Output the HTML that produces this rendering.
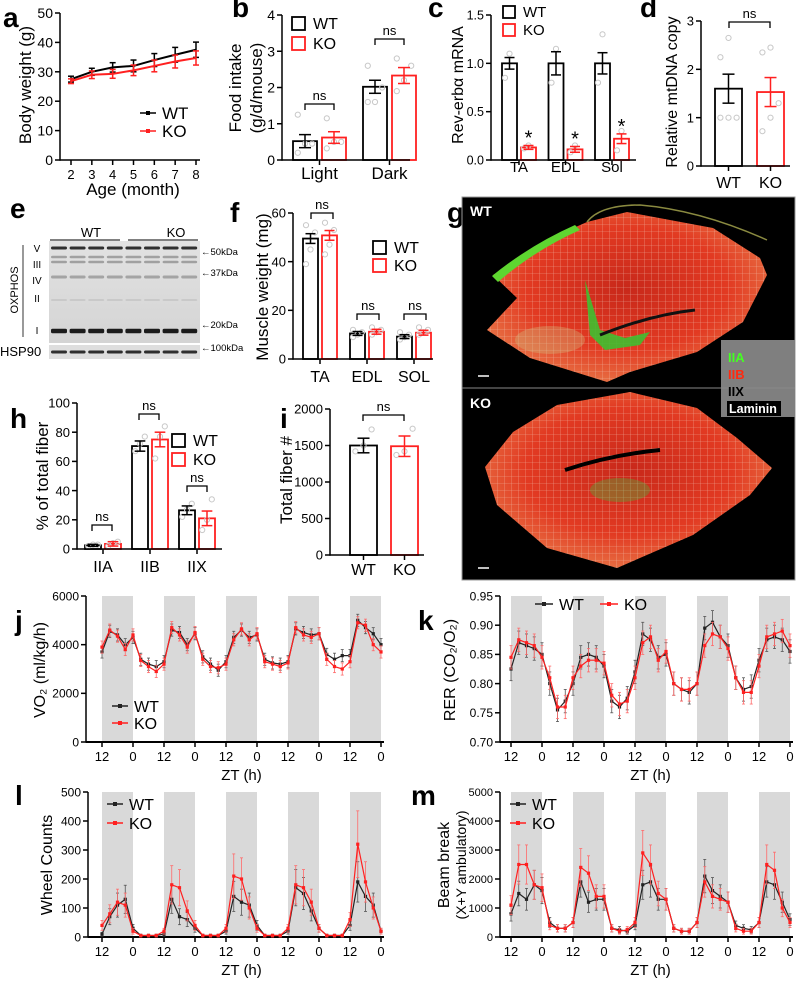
<!DOCTYPE html>
<html><head><meta charset="utf-8">
<style>
html,body{margin:0;padding:0;background:#fff;}
svg{display:block;font-family:"Liberation Sans",Arial,sans-serif;}
</style></head>
<body>
<svg id="fig" width="800" height="985" viewBox="0 0 800 985" xmlns="http://www.w3.org/2000/svg">
<defs>
<radialGradient id="musc" cx="50%" cy="45%" r="60%">
<stop offset="0" stop-color="#c8281a"/><stop offset="0.6" stop-color="#e23a22"/><stop offset="1" stop-color="#e87a4a"/>
</radialGradient>
<pattern id="cells" width="7" height="7" patternUnits="userSpaceOnUse">
<rect width="7" height="7" fill="none"/><path d="M0 0H7M0 0V7" stroke="#f3d8c8" stroke-width="0.6" opacity="0.7"/>
</pattern>
<linearGradient id="blotbg" x1="0" y1="0" x2="0" y2="1"><stop offset="0" stop-color="#e2e2e2"/><stop offset="1" stop-color="#d4d4d4"/></linearGradient>
</defs>
</svg>
<script>
// ---------- DATA ----------
const months = [2,3,4,5,6,7,8];
const bwWT = [27.5,30,31.5,32,34,35.8,37.5];
const bwWTerr = [1,1.2,1.6,2,2.2,2.5,2.6];
const bwKO = [26.8,29,29.3,30.5,32,33.5,34.7];
const bwKOerr = [0.8,1.3,1.5,1.8,2,2.2,2.4];

const foodCats = ["Light","Dark"];
const foodWT = [0.52,2.02]; const foodWTerr = [0.18,0.18];
const foodKO = [0.62,2.33]; const foodKOerr = [0.16,0.22];
const foodWTpts = [[0.2,0.45,0.45,1.25],[1.6,1.6,2.0,2.6]];
const foodKOpts = [[0.32,0.5,0.5,1.15],[1.9,2.2,2.6,2.8]];

const revCats = ["TA","EDL","Sol"];
const revWT = [1,1,1]; const revWTerr = [0.06,0.12,0.11];
const revKO = [0.13,0.11,0.22]; const revKOerr = [0.02,0.03,0.05];
const revWTpts = [[0.85,1.1],[0.8,1.15],[0.8,1.3]];
const revKOpts = [[0.12,0.15],[0.08,0.15],[0.1,0.3]];

const mtCats = ["WT","KO"];
const mtVals = [1.6,1.53]; const mtErr = [0.3,0.3];
const mtPts = [[1,1,1,2.25,2.65],[0.72,1,1.3,2.35,2.45]];

const mwCats = ["TA","EDL","SOL"];
const mwWT = [49.5,10.5,9.2]; const mwWTerr = [2,0.8,0.8];
const mwKO = [50.8,11.2,10.8]; const mwKOerr = [2,1,1];
const mwWTpts = [[39,45,52,55],[9,10,11,12],[8,9,10,11]];
const mwKOpts = [[43,47,53,56],[10,11,12,13],[10,11,12,13]];

const fbCats = ["IIA","IIB","IIX"];
const fbWT = [2.5,70.5,26.5]; const fbWTerr = [0.7,3.5,3];
const fbKO = [3.5,75,21]; const fbKOerr = [1.5,5,5];
const fbWTpts = [[2,3,3],[67,72,77],[22,27,31]];
const fbKOpts = [[2,4,5],[62,77,84],[13,20,34]];

const tfCats = ["WT","KO"];
const tfVals = [1500,1490]; const tfErr = [100,140];
const tfPts = [[1420,1500,1720],[1370,1420,1730]];

const ztLabels = ["12","0","12","0","12","0","12","0","12","0"];
const vo2WT = [3700,4550,4400,4000,4300, 3400,3200,3100,3300, 4600,4500,4000,4450, 3500,3200,2950,3300, 4300,4600,4300,4400, 3400,3250,3200,3300, 4650,4500,4400,4450, 3600,3400,3550,3550, 5000,4700,4450,4000];
const vo2KO = [3900,4600,4350,3800,4400, 3350,3100,2900,3200, 4700,4400,3900,4500, 3400,3100,3050,3200, 4200,4650,4200,4450, 3300,3200,3100,3250, 4700,4400,4300,4450, 3400,3100,3000,3300, 4900,4800,4000,3700];
const rerWT = [0.825,0.87,0.865,0.86,0.85, 0.80,0.755,0.77,0.80, 0.845,0.85,0.845,0.83, 0.77,0.76,0.775,0.82, 0.885,0.875,0.845,0.85, 0.80,0.79,0.785,0.80, 0.895,0.905,0.88,0.865, 0.81,0.79,0.795,0.84, 0.875,0.88,0.875,0.855];
const rerKO = [0.845,0.875,0.87,0.865,0.845, 0.81,0.76,0.76,0.81, 0.83,0.84,0.84,0.835, 0.78,0.765,0.77,0.81, 0.87,0.88,0.84,0.855, 0.80,0.79,0.79,0.80, 0.865,0.885,0.88,0.86, 0.81,0.785,0.785,0.83, 0.88,0.885,0.89,0.865];
const wheelWT = [10,70,110,130,30, 5,5,5,10, 130,70,60,30, 5,5,5,20, 140,120,110,40, 5,5,5,20, 170,150,90,30, 5,5,5,40, 190,140,110,20];
const wheelKO = [40,80,120,110,20, 5,5,5,20, 180,170,90,40, 5,5,5,30, 210,200,100,30, 5,5,5,30, 180,170,120,30, 5,5,5,60, 320,190,100,20];
const beamWT = [800,1500,1300,1800,1600, 500,300,300,500, 1900,1200,1300,1300, 300,250,200,400, 1800,1900,1300,1300, 300,200,200,500, 2100,1600,1400,1200, 400,300,250,500, 1900,1800,1200,600];
const beamKO = [1100,2500,2500,1800,1700, 400,300,300,500, 2400,2200,1400,1400, 300,200,250,500, 2900,2500,1500,1300, 300,200,200,500, 1900,1400,1300,1200, 300,200,200,500, 2500,2300,1000,500];

// ---------- HELPERS ----------
const NS = "http://www.w3.org/2000/svg";
const svg = document.getElementById('fig');
const RED = "#ff2020";
function mk(tag, attrs, parent) {
  const e = document.createElementNS(NS, tag);
  for (const k in attrs) e.setAttribute(k, attrs[k]);
  (parent || svg).appendChild(e);
  return e;
}
function txt(s, x, y, size, opts) {
  opts = opts || {};
  const e = mk('text', {x: x, y: y, 'font-size': size, 'text-anchor': opts.anchor || 'middle', fill: opts.fill || '#000', 'font-weight': opts.bold ? 'bold' : 'normal'});
  if (opts.rot) e.setAttribute('transform', 'rotate(-90 ' + x + ' ' + y + ')');
  e.textContent = s;
  return e;
}
function line(x1, y1, x2, y2, col, w) {
  return mk('line', {x1: x1, y1: y1, x2: x2, y2: y2, stroke: col || '#000', 'stroke-width': w || 1.5});
}
function scale(d0, d1, r0, r1) { return v => r0 + (v - d0) * (r1 - r0) / (d1 - d0); }

function letter(s, x, y) {
  const e = txt(s, x, y, 28, {bold: true, anchor: 'start'});
  
  
}
function yAxis(ax, y0, y1, ticks, labels, sy, size) {
  const a = line(ax, y0 + 0.75, ax, y1, '#000', 1.5);
  
  
  ticks.forEach((t, i) => {
    const y = sy(t);
    line(ax - 5, y, ax, y, '#000', 1.5);
    const l = txt(labels[i], ax - 7, y + size * 0.36, size, {anchor: 'end'});
    
    
  });
}
function nsMark(x1, x2, y, label) {
  mk('path', {d: 'M' + x1 + ' ' + (y + 6) + 'V' + y + 'H' + x2 + 'V' + (y + 6), fill: 'none', stroke: '#000', 'stroke-width': 1.3});
  const t = txt(label || 'ns', (x1 + x2) / 2, y - 4, 13);
  
  
}
function errBar(cx, yv, ye1, ye2, col, cap) {
  line(cx, ye1, cx, ye2, col, 1.5);
  line(cx - cap, ye1, cx + cap, ye1, col, 1.5);
  line(cx - cap, ye2, cx + cap, ye2, col, 1.5);
}
function bar(x, w, val, err, pts, col, sy, y0, name) {
  const y = sy(val);
  const r = mk('rect', {x: x, y: y, width: w, height: y0 - y, fill: '#fff', stroke: col, 'stroke-width': 1.8});
  
  
  pts.forEach((p, i) => {
    const c = mk('circle', {cx: x + w * (0.2 + 0.6 * (i % 3) / 2), cy: sy(p), r: 2.6, fill: 'none', stroke: '#c8c8c8', 'stroke-width': 1});
    
    
  });
  errBar(x + w / 2, y, sy(val + err), sy(val - err), col, Math.min(6, w / 3));
}
function legendSq(x, y, s, col, label, fs) {
  const r = mk('rect', {x: x, y: y, width: s, height: s, fill: '#fff', stroke: col, 'stroke-width': 1.8});
  
  
  const t = txt(label, x + s + 8, y + s - 1, fs, {anchor: 'start'});
  
  
}
function groupedBars(cfg, cats, wt, wtE, ko, koE, wtP, koP) {
  const sy = scale(0, cfg.vmax, cfg.y0, cfg.y1);
  yAxis(cfg.ax, cfg.y0, cfg.y1, cfg.ticks, cfg.tl, sy, cfg.fs);
  cats.forEach((c, i) => {
    const gx = cfg.bx + i * cfg.step;
    bar(gx, cfg.bw, wt[i], wtE[i], wtP[i], '#000', sy, cfg.y0, 'bar-wt-' + c.toLowerCase());
    bar(gx + cfg.gap, cfg.bw, ko[i], koE[i], koP[i], RED, sy, cfg.y0, 'bar-ko-' + c.toLowerCase());
    const cx = gx + (cfg.gap + cfg.bw) / 2;
    line(cx, cfg.y0, cx, cfg.y0 + 5, '#000', 1.5);
    const l = txt(c, cx, cfg.ly, cfg.lfs);
    
    
  });
  const xa = line(cfg.ax, cfg.y0, cfg.xend, cfg.y0, '#000', 1.5);
  
  
  return sy;
}
function singleBars(cfg, cats, vals, errs, pts) {
  const sy = scale(0, cfg.vmax, cfg.y0, cfg.y1);
  yAxis(cfg.ax, cfg.y0, cfg.y1, cfg.ticks, cfg.tl, sy, cfg.fs);
  cats.forEach((c, i) => {
    const x = cfg.bx[i];
    bar(x, cfg.bw, vals[i], errs[i], pts[i], i === 0 ? '#000' : RED, sy, cfg.y0, 'bar-' + c.toLowerCase());
    line(x + cfg.bw / 2, cfg.y0, x + cfg.bw / 2, cfg.y0 + 5, '#000', 1.5);
    const l = txt(c, x + cfg.bw / 2, cfg.ly, cfg.lfs);
    
    
  });
  const xa = line(cfg.ax, cfg.y0, cfg.xend, cfg.y0, '#000', 1.5);
  
  
  return sy;
}
function timeSeries(cfg, wt, ko) {
  const sy = scale(cfg.vmin, cfg.vmax, cfg.y0, cfg.y1);
  const sx = scale(0, 108, cfg.x0, cfg.x1);
  for (let d = 0; d < 5; d++) {
    const b = mk('rect', {x: sx(d * 24), y: cfg.y1, width: sx(12) - sx(0), height: cfg.y0 - cfg.y1, fill: '#d9d9d9'});
    
    
  }
  yAxis(cfg.ax, cfg.y0, cfg.y1, cfg.ticks, cfg.tl, sy, cfg.fs);
  const xa = line(cfg.ax, cfg.y0, cfg.x1 + 3, cfg.y0, '#000', 2);
  
  
  ztLabels.forEach((s, i) => {
    const x = sx(i * 12);
    line(x, cfg.y0, x, cfg.y0 + 5, '#000', 1.5);
    const l = txt(s, x, cfg.y0 + 19, cfg.xfs || (cfg.fs + 1));
    
    
  });
  const xt = txt('ZT (h)', (cfg.x0 + cfg.x1) / 2, cfg.y0 + 38, 15);
  
  
  [[wt, '#222', 'wt'], [ko, RED, 'ko']].forEach(s => {
    const vals = s[0];
    vals.forEach((v, i) => {
      const x = sx(i * 3);
      const e = cfg.err(v, i);
      const ec = s[1] === RED ? '#ff6a6a' : '#555';
      line(x, sy(v - e), x, sy(v + e), ec, 0.8);
      line(x - 1.5, sy(v + e), x + 1.5, sy(v + e), ec, 0.8);
      line(x - 1.5, sy(v - e), x + 1.5, sy(v - e), ec, 0.8);
    });
    const d = vals.map((v, i) => (i ? 'L' : 'M') + sx(i * 3).toFixed(1) + ' ' + sy(v).toFixed(1)).join('');
    const p = mk('path', {d: d, fill: 'none', stroke: s[1], 'stroke-width': 1.2});
    
    
    vals.forEach((v, i) => {
      const m = mk('rect', {x: sx(i * 3) - 1.6, y: sy(v) - 1.6, width: 3.2, height: 3.2, fill: s[1]});
      
      
    });
  });
}
function lineLegend(x, y, col, label, fs, len) {
  const l = line(x, y, x + len, y, col, 1.5);
  
  
  mk('rect', {x: x + len / 2 - 2, y: y - 2, width: 4, height: 4, fill: col});
  const t = txt(label, x + len + 6, y + fs * 0.36, fs, {anchor: 'start'});
  
  
}
function ytitle(s, x, y, fs) {
  const t = txt(s, x, y, fs, {rot: true});
  
  
  return t;
}

// ---------- PANEL a ----------
letter('a', 3, 27);
(function(){
  const sx = scale(2, 8, 71, 196), sy = scale(0, 50, 160, 13);
  yAxis(60, 160, 13, [0,10,20,30,40,50], ['0','10','20','30','40','50'], sy, 14);
  line(60, 160, 200, 160, '#000', 1.5);
  months.forEach(m => {
    line(sx(m), 160, sx(m), 165, '#000', 1.5);
    const t = txt(String(m), sx(m), 179, 13);
    
    
  });
  const xt = txt('Age (month)', 133, 195, 17);
  
  
  ytitle('Body weight (g)', 31, 85, 17);
  [[bwWT, bwWTerr, '#000', 'wt'], [bwKO, bwKOerr, RED, 'ko']].forEach(s => {
    s[0].forEach((v, i) => errBar(sx(months[i]), sy(v), sy(v + s[1][i]), sy(v - s[1][i]), s[2], 3));
    const p = mk('path', {d: s[0].map((v, i) => (i ? 'L' : 'M') + sx(months[i]) + ' ' + sy(v)).join(''), fill: 'none', stroke: s[2], 'stroke-width': 2});
    
    
  });
  lineLegend(140, 113, '#000', 'WT', 17, 16);
  lineLegend(140, 131, RED, 'KO', 17, 16);
})();

// ---------- PANEL b ----------
letter('b', 232, 17);
ytitle('Food intake', 241, 88, 17);
ytitle('(g/d/mouse)', 262, 88, 17);
groupedBars({ax: 282, y0: 160, y1: 15, vmax: 4, ticks: [0,1,2,3,4], tl: ['0','1','2','3','4'], fs: 14, bx: 293, bw: 24, gap: 29, step: 70, xend: 410, ly: 179, lfs: 17},
  foodCats, foodWT, foodWTerr, foodKO, foodKOerr, foodWTpts, foodKOpts);
nsMark(305, 334, 104);
nsMark(375, 404, 39);
legendSq(292, 17, 13, '#000', 'WT', 16);
legendSq(292, 37, 13, RED, 'KO', 16);

// ---------- PANEL c ----------
letter('c', 428, 17);
ytitle('Rev-erbα mRNA', 463, 85, 16);
(function(){
  const sy = groupedBars({ax: 491, y0: 160, y1: 15, vmax: 1.5, ticks: [0,0.5,1,1.5], tl: ['0.0','0.5','1.0','1.5'], fs: 12.5, bx: 502, bw: 15, gap: 19, step: 46.5, xend: 636, ly: 172, lfs: 15},
    revCats, revWT, revWTerr, revKO, revKOerr, revWTpts, revKOpts);
  revKO.forEach((v, i) => {
    const s = txt('*', 502 + i * 46.5 + 19 + 7.5, sy(v + revKOerr[i]) - 1, 20);
    
    
  });
})();
legendSq(503, 6, 12, '#000', 'WT', 15);
legendSq(503, 24, 12, RED, 'KO', 15);

// ---------- PANEL d ----------
letter('d', 640, 17);
ytitle('Relative mtDNA copy', 677, 92, 16);
singleBars({ax: 701, y0: 166, y1: 21, vmax: 3, ticks: [0,1,2,3], tl: ['0','1','2','3'], fs: 13, bx: [715, 757], bw: 27, xend: 790, ly: 188, lfs: 16},
  mtCats, mtVals, mtErr, mtPts);
nsMark(729, 770, 22);

// ---------- PANEL e (blot) ----------
letter('e', 10, 218);
(function(){
  const g = mk('g', {});
  
  
  mk('rect', {x: 49, y: 241, width: 151, height: 102, fill: 'url(#blotbg)'}, g);
  mk('rect', {x: 49, y: 345, width: 151, height: 14, fill: '#dedede'}, g);
  const bands = [[248, 3, 0.85], [257, 2.5, 0.3], [262, 2.5, 0.3], [277, 3, 0.28], [300, 2, 0.08], [331, 4.5, 0.95], [352, 3, 0.85]];
  for (let l = 0; l < 8; l++) {
    const x = 51 + l * 18.6;
    bands.forEach(b => mk('rect', {x: x, y: b[0] - b[1] / 2, width: 16, height: b[1], rx: 1.5, fill: '#111', opacity: b[2]}, g));
  }
  line(50, 240, 120, 240, '#000', 1);
  line(128, 240, 198, 240, '#000', 1);
  txt('WT', 91, 237, 13);
  txt('KO', 176, 237, 13);
  [['V', 252], ['III', 268], ['IV', 284], ['II', 302], ['I', 334]].forEach(a => txt(a[0], 37, a[1], 10));
  line(23, 245, 23, 337, '#000', 0.8);
  const ox = txt('OXPHOS', 18, 290, 11, {rot: true});
  
  
  const hs = txt('HSP90', 0, 356, 13, {anchor: 'start'});
  
  
  [['←50kDa', 255], ['←37kDa', 276], ['←20kDa', 328], ['←100kDa', 351]].forEach(a => txt(a[0], 201, a[1], 9.5, {anchor: 'start'}));
})();

// ---------- PANEL f ----------
letter('f', 230, 222);
ytitle('Muscle weight (mg)', 268, 287, 17);
groupedBars({ax: 293, y0: 359, y1: 213, vmax: 60, ticks: [0,20,40,60], tl: ['0','20','40','60'], fs: 13, bx: 303, bw: 15, gap: 19, step: 47, xend: 433, ly: 382, lfs: 16},
  mwCats, mwWT, mwWTerr, mwKO, mwKOerr, mwWTpts, mwKOpts);
nsMark(311, 333, 213);
nsMark(357, 379, 314);
nsMark(404, 426, 314);
legendSq(373, 241, 13, '#000', 'WT', 16);
legendSq(373, 259, 13, RED, 'KO', 16);

// ---------- PANEL g (image) ----------
letter('g', 447, 222);
(function(){
  const g = mk('g', {});
  
  
  mk('rect', {x: 462, y: 197, width: 333, height: 383, fill: '#000', stroke: '#999', 'stroke-width': 1}, g);
  const wt = 'M493,275 L553,237 L587,222 L627,212 L713,228 L760,258 L767,275 L743,322 L697,352 L630,372 L607,382 L530,358 L487,330 L517,298 Z';
  const ko = 'M485,467 L513,432 L557,405 L630,392 L697,408 L737,438 L772,468 L750,495 L693,535 L617,568 L547,548 L497,505 Z';
  [wt, ko].forEach(d => {
    mk('path', {d: d, fill: 'url(#musc)'}, g);
    mk('path', {d: d, fill: 'url(#cells)'}, g);
  });
  mk('path', {d: 'M492,276 Q530,245 575,225 L580,230 Q535,250 498,282 Z', fill: '#5ed630'}, g);
  mk('path', {d: 'M585,280 L600,330 L625,338 L650,332 L640,345 L605,350 L590,335 Z', fill: '#3fbf30', opacity: 0.9}, g);
  mk('path', {d: 'M600,335 Q650,315 695,310', fill: 'none', stroke: '#111', 'stroke-width': 3}, g);
  mk('path', {d: 'M565,470 Q610,455 660,450', fill: 'none', stroke: '#000', 'stroke-width': 4}, g);
  mk('path', {d: 'M587,222 Q600,205 640,205 Q700,210 767,240', fill: 'none', stroke: '#8a8a40', 'stroke-width': 1.5}, g);
  mk('ellipse', {cx: 550, cy: 340, rx: 35, ry: 14, fill: '#d0c080', opacity: 0.35}, g);
  mk('ellipse', {cx: 620, cy: 490, rx: 30, ry: 12, fill: '#40c040', opacity: 0.35}, g);
  line(462, 388, 795, 388, '#888', 1);
  txt('WT', 470, 216, 14, {bold: true, fill: '#fff', anchor: 'start'});
  txt('KO', 470, 408, 14, {bold: true, fill: '#fff', anchor: 'start'});
  line(478, 376, 489, 376, '#fff', 1.5);
  line(478, 568, 489, 568, '#fff', 1.5);
  const lg = mk('rect', {x: 721, y: 340, width: 74, height: 77, fill: '#7f7f7f'}, g);
  
  
  txt('IIA', 728, 362, 13, {bold: true, fill: '#44ff22', anchor: 'start'});
  txt('IIB', 728, 379, 13, {bold: true, fill: '#ff2a10', anchor: 'start'});
  txt('IIX', 728, 396, 13, {bold: true, fill: '#000', anchor: 'start'});
  mk('rect', {x: 727, y: 401, width: 54, height: 15, fill: '#000'}, g);
  txt('Laminin', 729, 413, 12.5, {bold: true, fill: '#fff', anchor: 'start'});
})();

// ---------- PANEL h ----------
letter('h', 10, 428);
ytitle('% of total fiber', 48, 476, 17);
groupedBars({ax: 77, y0: 549, y1: 403, vmax: 100, ticks: [0,20,40,60,80,100], tl: ['0','20','40','60','80','100'], fs: 13, bx: 85, bw: 16, gap: 20, step: 47, xend: 222, ly: 572, lfs: 16},
  fbCats, fbWT, fbWTerr, fbKO, fbKOerr, fbWTpts, fbKOpts);
nsMark(92, 112, 525);
nsMark(139, 159, 414);
nsMark(187, 207, 486);
legendSq(172, 434, 13, '#000', 'WT', 16);
legendSq(172, 453, 13, RED, 'KO', 16);

// ---------- PANEL i ----------
letter('i', 280, 428);
ytitle('Total fiber #', 292, 480, 17);
singleBars({ax: 330, y0: 555, y1: 409, vmax: 2000, ticks: [0,500,1000,1500,2000], tl: ['0','500','1000','1500','2000'], fs: 13, bx: [350, 391], bw: 27, xend: 424, ly: 575, lfs: 16},
  tfCats, tfVals, tfErr, tfPts);
nsMark(363, 404, 415);

// ---------- PANELS j k l m ----------
letter('j', 15, 630);
ytitle('VO₂ (ml/kg/h)', 45, 670, 16);
timeSeries({ax: 86, x0: 102, x1: 381, y0: 742, y1: 596, vmin: 0, vmax: 6000, ticks: [0,2000,4000,6000], tl: ['0','2000','4000','6000'], fs: 12, err: v => 250}, vo2WT, vo2KO);
lineLegend(112, 706, '#222', 'WT', 16, 16);
lineLegend(112, 723, RED, 'KO', 16, 16);

letter('k', 418, 630);
ytitle('RER (CO₂/O₂)', 455, 670, 16);
timeSeries({ax: 500, x0: 511, x1: 790, y0: 742, y1: 596, vmin: 0.70, vmax: 0.95, ticks: [0.70,0.75,0.80,0.85,0.90,0.95], tl: ['0.70','0.75','0.80','0.85','0.90','0.95'], fs: 12, err: v => 0.02}, rerWT, rerKO);
lineLegend(535, 604, '#222', 'WT', 16, 18);
lineLegend(600, 604, RED, 'KO', 16, 18);

letter('l', 15, 805);
ytitle('Wheel Counts', 52, 865, 16);
timeSeries({ax: 88, x0: 102, x1: 381, y0: 937, y1: 792, vmin: 0, vmax: 500, ticks: [0,100,200,300,400,500], tl: ['0','100','200','300','400','500'], fs: 12, xfs: 13, err: v => v * 0.35 + 3}, wheelWT, wheelKO);
lineLegend(107, 804, '#222', 'WT', 16, 16);
lineLegend(107, 823, RED, 'KO', 16, 16);

letter('m', 411, 805);
ytitle('Beam break', 449, 865, 16);
ytitle('(X+Y ambulatory)', 466, 865, 14);
timeSeries({ax: 500, x0: 511, x1: 790, y0: 937, y1: 792, vmin: 0, vmax: 5000, ticks: [0,1000,2000,3000,4000,5000], tl: ['0','1000','2000','3000','4000','5000'], fs: 11, xfs: 13, err: v => v * 0.25 + 50}, beamWT, beamKO);
lineLegend(510, 804, '#222', 'WT', 16, 16);
lineLegend(510, 823, RED, 'KO', 16, 16);
</script>
</body></html>
